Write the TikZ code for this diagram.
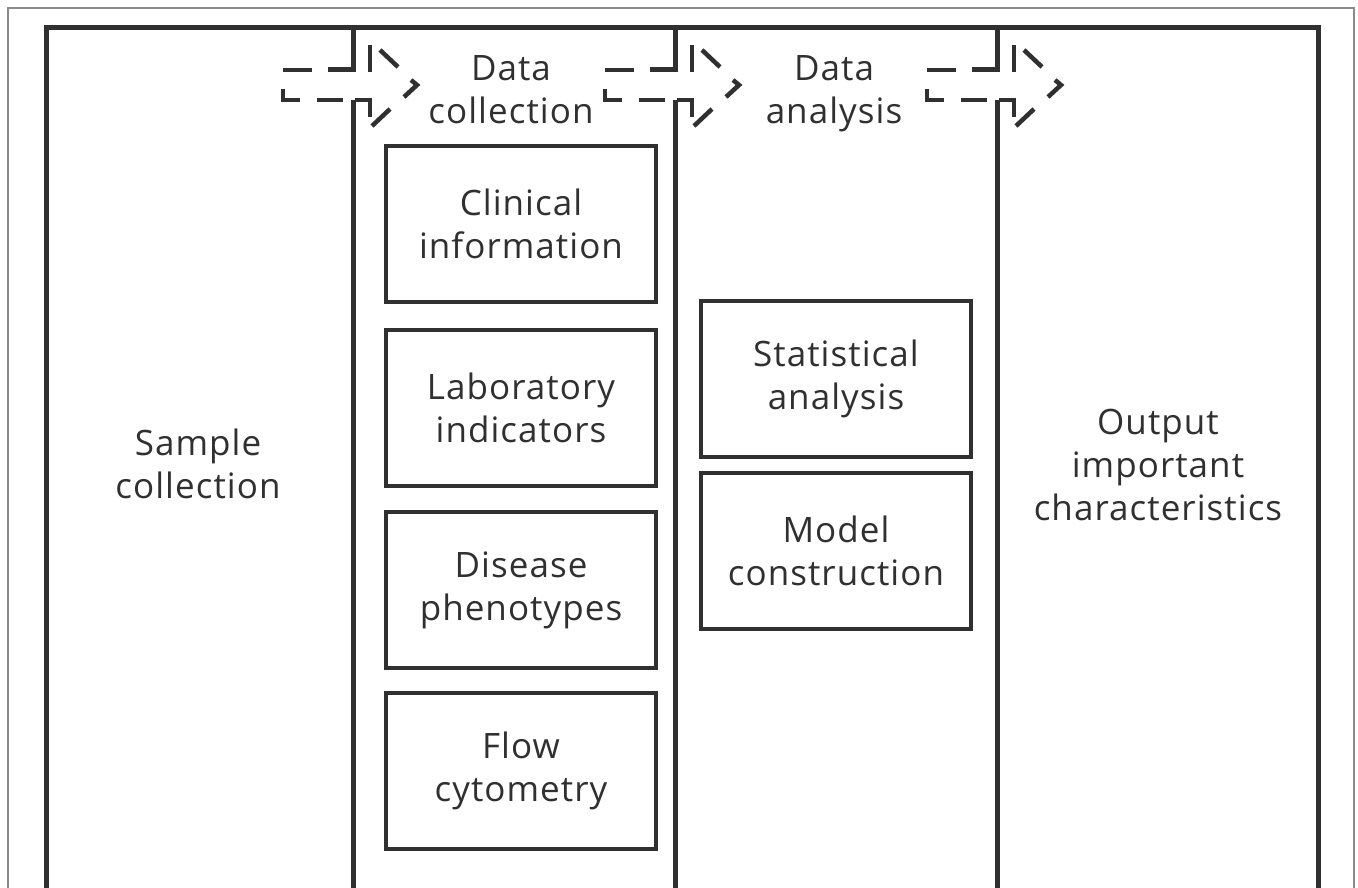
\documentclass[tikz,border=0pt]{standalone}
\usepackage{fontspec}
\setmainfont{Open Sans}[LetterSpace=3]
\definecolor{ink}{HTML}{303030}
\definecolor{frame}{HTML}{8A8A8A}
\begin{document}
\begin{tikzpicture}[x=1pt,y=-1pt,
  lbl/.style={text=ink,align=center,font=\fontsize{35}{43}\selectfont,inner sep=0pt},
  stepbox/.style={lbl,draw=ink,line width=4pt,minimum width=270pt,minimum height=156pt},
  thick frame/.style={draw=ink,line width=5pt},
  dashseg/.style={draw=ink,line width=4.5pt,line join=miter}]
\useasboundingbox (0,0) rectangle (1358,888);
\fill[white] (0,0) rectangle (1358,888);
% outer thin border
\draw[frame,line width=1.5pt] (8,888) -- (8,8) -- (1354,8) -- (1354,888);
% thick frame
\draw[thick frame] (46,888) -- (46,28) -- (1318,28) -- (1318,888);
% dividers and dashed arrows
\foreach \D/\n in {353/a,675/b,997/c}{
  \coordinate (top\n) at (\D,28);
  \coordinate (sh\n) at (\D,70);
  \coordinate (sl\n) at (\D,100);
  \coordinate (bot\n) at (\D,888);
  \draw[thick frame] (top\n) -- (sh\n) -- ++(-25,0);
  \draw[thick frame] (sl\n) -- (bot\n);
  % dashed arrow outline, drawn dash by dash
  \draw[dashseg] (\D-70,70) -- (\D-41,70);
  \draw[dashseg] (\D+17,72) -- (\D+17,45);
  \draw[dashseg] (\D+27,50) -- (\D+45,67);
  \draw[dashseg] (\D+58,80) -- (\D+64,85) -- (\D+51,97);
  \draw[dashseg] (\D+37,109) -- (\D+19,126);
  \draw[dashseg] (\D+17,117) -- (\D+17,100) -- (\D+2,100);
  \draw[dashseg] (\D-36,100) -- (\D-10,100);
  \draw[dashseg] (\D-53,100) -- (\D-70,100) -- (\D-70,89);
}
% labels
\node[lbl] (sample) at (198,464) {Sample\\collection};
\node[lbl] (dcol) at (511,90) {Data\\collection};
\node[lbl] (dana) at (834,94) {Data\\analysis};
\node[lbl] (out) at (1158,465) {Output\\important\\characteristics};
% boxes
\node[stepbox] (clin) at (521,224) {Clinical\\information};
\node[stepbox] (lab) at (521,408) {Laboratory\\indicators};
\node[stepbox] (dis) at (521,590) {Disease\\phenotypes};
\node[stepbox] (flow) at (521,771) {Flow\\cytometry};
\node[stepbox] (stat) at (836,379) {Statistical\\analysis};
\node[stepbox] (model) at (836,551) {Model\\construction};
\end{tikzpicture}
\end{document}
